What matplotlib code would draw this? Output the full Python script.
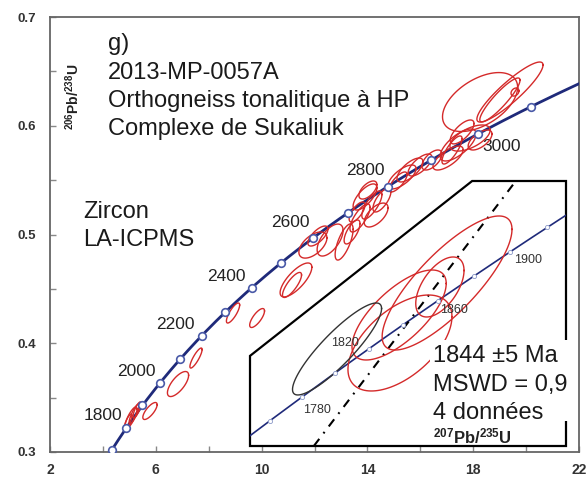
import numpy as np
import matplotlib
matplotlib.use('Agg')
import matplotlib.pyplot as plt
from matplotlib.patches import Polygon, Rectangle

plt.rcParams['font.family'] = ['Liberation Sans', 'DejaVu Sans']
plt.rcParams['mathtext.fontset'] = 'custom'
plt.rcParams['mathtext.rm'] = 'Liberation Sans:bold'
plt.rcParams['mathtext.it'] = 'Liberation Sans:bold'
plt.rcParams['mathtext.bf'] = 'Liberation Sans:bold'

# decay constants (per Ma)
L238 = 1.55125e-4
L235 = 9.8485e-4

# concordia ages
tick_ages = [1700, 1800, 1900, 2000, 2100, 2200, 2300, 2400, 2500, 2600,
             2700, 2800, 2900, 3000, 3100, 3200]
label_ages = [1800, 2000, 2200, 2400, 2600, 2800, 3000]
label_offsets = [(-17, 9), (-17, 8), (-19, 8), (-18, 8), (-16, 11), (-16, 11.5), (17, -9)]

# analyses: 207Pb/235U, half-width, 206Pb/238U, half-height, rho
spot_x = [5.06, 5.18, 4.95, 5.29, 5.78, 6.84, 7.52, 8.92, 9.83, 11.30, 11.15,
          11.94, 12.59, 13.12, 12.13, 13.42, 13.72,
          13.91, 14.17, 14.33, 14.02, 14.55, 13.61,
          15.31, 15.61, 15.99, 15.16, 16.44,
          17.05, 17.43, 17.88, 17.58, 18.26, 17.20,
          18.26, 19.39, 19.01, 19.58]
spot_ex = [0.23, 0.19, 0.15, 0.15, 0.27, 0.40, 0.23, 0.25, 0.28, 0.60, 0.36,
           0.53, 0.49, 0.34, 0.38, 0.30, 0.38,
           0.45, 0.38, 0.45, 0.34, 0.34, 0.30,
           0.53, 0.49, 0.45, 0.34, 0.38,
           0.57, 0.68, 0.76, 0.45, 0.45, 0.38,
           1.42, 1.25, 0.76, 0.15]
spot_y = [0.3313, 0.3349, 0.3276, 0.3386, 0.3377, 0.3625, 0.3864, 0.4278, 0.4232, 0.4582, 0.4536,
          0.4903, 0.4949, 0.4931, 0.4986, 0.5023, 0.5152,
          0.5345, 0.5271, 0.5179, 0.5409, 0.5317, 0.5207,
          0.5529, 0.5593, 0.5639, 0.5483, 0.5685,
          0.5703, 0.5823, 0.5887, 0.5943, 0.5869, 0.5777,
          0.6218, 0.6310, 0.6237, 0.6310]
spot_ey = [0.0101, 0.0092, 0.0074, 0.0074, 0.0078, 0.0115, 0.0092, 0.0092, 0.0087, 0.0156, 0.0115,
           0.0120, 0.0147, 0.0166, 0.0092, 0.0110, 0.0129,
           0.0120, 0.0129, 0.0110, 0.0083, 0.0110, 0.0092,
           0.0110, 0.0110, 0.0101, 0.0092, 0.0092,
           0.0110, 0.0147, 0.0120, 0.0110, 0.0092, 0.0129,
           0.0271, 0.0276, 0.0202, 0.0037]
spot_rho = [0.8, 0.85, 0.8, 0.8, 0.75, 0.7, 0.85, 0.8, 0.75, 0.75, 0.8,
            0.55, 0.6, 0.7, 0.7, 0.7, 0.75,
            0.7, 0.75, 0.6, 0.6, 0.7, 0.7,
            0.7, 0.7, 0.7, 0.75, 0.6,
            0.7, 0.7, 0.6, 0.7, 0.6, 0.8,
            0.5, 0.9, 0.9, 0.3]

# inset: the four analyses used for the age, and the rejected one
ins_x = [5.277, 5.252, 5.110, 5.113]
ins_ex = [0.226, 0.084, 0.164, 0.181]
ins_y = [0.33747, 0.33679, 0.33201, 0.32723]
ins_ey = [0.01144, 0.00512, 0.00768, 0.00819]
ins_rho = [0.8, 0.55, 0.7, 0.55]
rej_x, rej_ex, rej_y, rej_ey, rej_rho = 4.894, 0.155, 0.32621, 0.00785, 0.88
ins_ages = [1760, 1780, 1800, 1820, 1840, 1860, 1880, 1900, 1920]
ins_label_ages = [1780, 1820, 1860, 1900]
ins_label_offsets = [(11, -9.5), (-17, 4), (11.5, -7), (13, -6)]
age = 1844


def concordia(t):
    t = np.asarray(t, dtype=float)
    return np.exp(L235 * t) - 1, np.exp(L238 * t) - 1


def ellipse(x, ex, y, ey, rho, n=120):
    a = np.linspace(0, 2 * np.pi, n)
    return x + ex * np.cos(a), y + ey * (rho * np.cos(a) + np.sqrt(1 - rho ** 2) * np.sin(a))


fig = plt.figure(figsize=(5.88, 4.8), dpi=100)
ax = fig.add_axes([50 / 588, 28 / 480, 529 / 588, 435 / 480])

navy = '#1f2a7a'
red = '#d42a2a'

cx, cy = concordia(np.linspace(1650, 3300, 400))
ax.plot(cx, cy, color=navy, lw=2, zorder=3)

for i in range(len(spot_x)):
    ex_, ey_ = ellipse(spot_x[i], spot_ex[i], spot_y[i], spot_ey[i], spot_rho[i])
    ax.plot(ex_, ey_, color=red, lw=1, zorder=4)

mx, my = concordia(tick_ages)
ax.plot(mx, my, 'o', ms=5.5, mfc='white', mec='#4a5aa8', mew=1.2, zorder=5, clip_on=True)

for a, off in zip(label_ages, label_offsets):
    px, py = concordia(a)
    ax.annotate(str(a), (px, py), xytext=off, textcoords='offset points',
                ha='center', va='center', fontsize=12.5, color='#222222')

ax.set_xlim(2, 22)
ax.set_ylim(0.3, 0.7)
ax.set_xticks([2, 6, 10, 14, 18, 22])
ax.set_xticks([4, 8, 12, 16, 20], minor=True)
ax.set_yticks([0.3, 0.4, 0.5, 0.6, 0.7])
ax.set_yticks([0.35, 0.45, 0.55, 0.65], minor=True)
ax.tick_params(which='both', direction='in', length=4, width=1, color='#888888')
ax.tick_params(axis='y', pad=10, labelsize=9.5, labelcolor='#333333')
ax.tick_params(axis='x', pad=8, labelsize=10, labelcolor='#333333')
for lbl in ax.get_xticklabels() + ax.get_yticklabels():
    lbl.set_fontweight('bold')
for s in ax.spines.values():
    s.set_color('#666666')
    s.set_linewidth(1.3)

fig.text(73 / 588, 1 - 97 / 480, r'$^{206}$Pb/$^{238}$U', rotation=90, ha='center', va='center',
         fontsize=10, fontweight='bold', color='#222222')

title_lines = ['g)', '2013-MP-0057A', 'Orthogneiss tonalitique à HP', 'Complexe de Sukaliuk']
for line, base in zip(title_lines, [50, 79, 107, 135]):
    fig.text(108 / 588, 1 - base / 480, line, ha='left', va='baseline', fontsize=17, color='#1a1a1a')
for line, base in zip(['Zircon', 'LA-ICPMS'], [218, 246.5]):
    fig.text(83 / 588, 1 - base / 480, line, ha='left', va='baseline', fontsize=17, color='#1a1a1a')

# inset
ax2 = fig.add_axes([250 / 588, 34 / 480, 316 / 588, 265 / 480])
ax2.set_xlim(4.591, 5.691)
ax2.set_ylim(0.30965, 0.35488)
ax2.axis('off')
frame = Polygon([(0, 0), (0, 0.34), (0.703, 1), (1, 1), (1, 0)], closed=True,
                transform=ax2.transAxes, facecolor='white', edgecolor='black',
                lw=1.6, clip_on=False, zorder=0)
ax2.add_patch(frame)

ix, iy = concordia(np.linspace(1730, 1950, 200))
ax2.plot(ix, iy, color=navy, lw=1.2, zorder=2)

dx, dy = concordia(age)
ax2.axline((0, 0), slope=dy / dx, color='black', lw=1.5, dashes=(4.3, 3.3, 0.9, 3.3), zorder=3)

for i in range(len(ins_x)):
    ex_, ey_ = ellipse(ins_x[i], ins_ex[i], ins_y[i], ins_ey[i], ins_rho[i])
    ax2.plot(ex_, ey_, color=red, lw=1, zorder=4)
ex_, ey_ = ellipse(rej_x, rej_ex, rej_y, rej_ey, rej_rho)
ax2.plot(ex_, ey_, color='#333333', lw=1, zorder=4)

imx, imy = concordia(ins_ages)
ax2.plot(imx, imy, 'o', ms=3, mfc='white', mec='#8a98c8', mew=0.6, zorder=5)
for a, off in zip(ins_label_ages, ins_label_offsets):
    px, py = concordia(a)
    ax2.annotate(str(a), (px, py), xytext=off, textcoords='offset points',
                 ha='center', va='center', fontsize=9, color='#333333', zorder=6)

ax2.add_patch(Rectangle((430 / 588, 1 - 421 / 480), 142 / 588, 81 / 480, transform=fig.transFigure,
                        facecolor='white', edgecolor='none', clip_on=False, zorder=7))
for line, base in zip(['1844 ±5 Ma', 'MSWD = 0,9', '4 données'], [362, 390.5, 419]):
    fig.text(433 / 588, 1 - base / 480, line, ha='left', va='baseline', fontsize=17,
             color='#1a1a1a', zorder=8)

fig.text(472 / 588, 1 - 443 / 480, r'$^{207}$Pb/$^{235}$U', ha='center', va='baseline',
         fontsize=12, fontweight='bold', color='#222222', zorder=8)

fig.savefig('out.png', dpi=100)
